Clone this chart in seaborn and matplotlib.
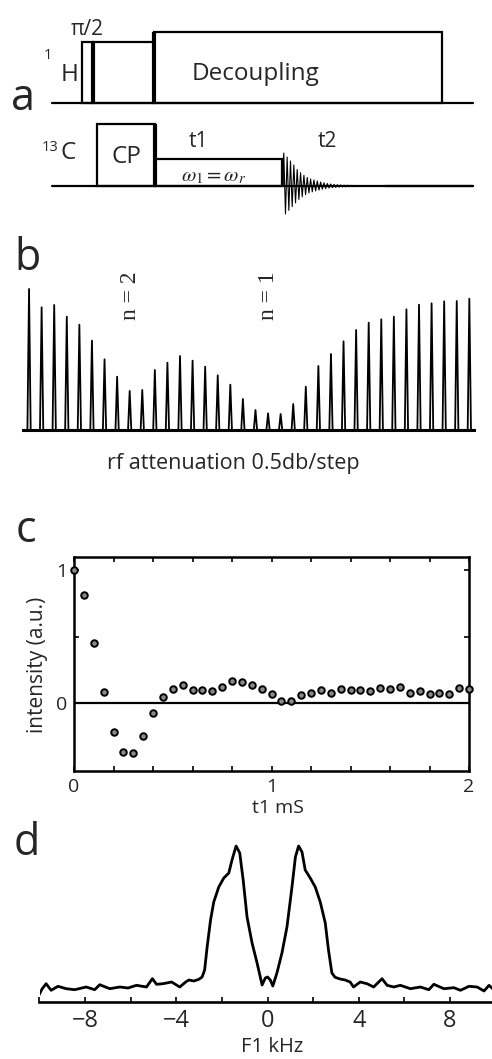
import numpy as np
import pandas as pd
import matplotlib
matplotlib.use("Agg")
import matplotlib.pyplot as plt
from matplotlib.patches import Rectangle
from matplotlib.ticker import FixedLocator
import seaborn as sns

# ---------------- data ----------------
# panel b: rf nutation spikes (one per 0.5 dB attenuation step), heights in arbitrary units
spike_heights = [423, 368, 375, 340, 316, 268, 212, 160, 117, 120, 180, 202,
                 222, 208, 190, 164, 136, 93, 60, 50, 48, 78, 130, 192,
                 228, 266, 300, 322, 332, 340, 362, 376, 380, 386, 387, 394]

# panel c: intensity vs t1
t1_ms = np.linspace(0, 2, 41)
intensity = [1.0, 0.815, 0.455, 0.083, -0.218, -0.368, -0.375, -0.245, -0.075, 0.05,
             0.108, 0.135, 0.103, 0.098, 0.09, 0.125, 0.165, 0.163, 0.135, 0.11,
             0.07, 0.013, 0.018, 0.06, 0.078, 0.1, 0.078, 0.105, 0.103, 0.103,
             0.09, 0.115, 0.108, 0.125, 0.08, 0.09, 0.07, 0.078, 0.068, 0.118, 0.108]

# panel d: F1 spectrum
f1_khz = [-10.03, -9.88, -9.71, -9.49, -9.19, -8.83, -8.46, -7.95, -7.58, -7.36,
          -6.92, -6.48, -6.12, -5.75, -5.31, -5.05, -4.87, -4.58, -4.21, -3.85,
          -3.59, -3.45, -3.23, -3.01, -2.87, -2.76, -2.65, -2.50, -2.36, -2.14,
          -1.92, -1.70, -1.56, -1.38, -1.22, -1.07, -0.90, -0.68, -0.46, -0.24,
          -0.10, 0.0, 0.12, 0.23, 0.41, 0.63, 0.85, 1.07, 1.22, 1.36,
          1.51, 1.65, 1.87, 2.09, 2.31, 2.53, 2.67, 2.82, 2.96, 3.18,
          3.40, 3.62, 3.77, 4.06, 4.36, 4.65, 5.02, 5.24, 5.53, 5.82,
          6.26, 6.70, 7.07, 7.29, 7.73, 8.17, 8.46, 8.83, 9.19, 9.49,
          9.71, 9.87]
f1_intensity = [6.7, 13.3, 18.3, 11.7, 15.7, 13.3, 12.3, 15, 12.3, 17.3,
                13.3, 15, 14, 16.7, 15, 23.3, 17.7, 18.3, 20, 15,
                20, 22, 21, 22.7, 25, 32, 55, 82, 100, 115,
                124, 129, 142, 156, 149, 122, 85, 59, 39, 17,
                24, 25, 22, 16, 29, 49, 75, 115, 145, 156,
                150, 132, 124, 115, 100, 79, 52, 29, 24.7, 23,
                22, 20, 15, 20, 18.3, 15, 23.3, 16.7, 15, 16.7,
                13.3, 15, 12.3, 17.7, 13.3, 14.3, 11.7, 15.7, 15, 11,
                16.7, 13.3]

# panel a: FID envelope (peak amplitude of each cycle)
fid_amplitudes = [33, 29, 25, 21, 16.5, 13.3, 10.7, 8.5, 7, 6, 5, 4, 3.2, 2.5, 2,
                  1.6, 1.3, 1.1, 0.9, 0.8, 0.7, 0.6, 0.5, 0.45, 0.4, 0.35, 0.3,
                  0.25, 0.2, 0.15]

# ---------------- style ----------------
sns.set_theme(style="white")
plt.rcParams['font.family'] = ['Open Sans', 'DejaVu Sans']
plt.rcParams['mathtext.fontset'] = 'stix'

W, H = 492, 1059
fig = plt.figure(figsize=(W / 100, H / 100), dpi=100)
fig.patch.set_facecolor('white')


def px_axes(x0, y0, x1, y1, **kw):
    return fig.add_axes([x0 / W, 1 - y1 / H, (x1 - x0) / W, (y1 - y0) / H], **kw)


# overlay axes in pixel coords for the schematic and labels
ax0 = fig.add_axes([0, 0, 1, 1])
ax0.set_xlim(0, W)
ax0.set_ylim(H, 0)
ax0.axis('off')
ax0.patch.set_alpha(0)

K = 'black'
LW = 1.6
THICK = 3.0
SERIF = ['Liberation Serif', 'DejaVu Serif']


def box(ax, x0, x1, ytop, ybase, lw=LW):
    ax.add_patch(Rectangle((x0, ytop), x1 - x0, ybase - ytop, fill=False,
                           ec=K, lw=lw, joinstyle='miter'))


def vline(ax, x, y0, y1, lw=THICK):
    ax.plot([x, x], [y0, y1], color=K, lw=lw, solid_capstyle='butt')


# ---- panel a: pulse sequence ----
h_base, c_base = 103, 186
ax0.plot([52, 473], [h_base, h_base], color=K, lw=LW)
ax0.plot([52, 473], [c_base, c_base], color=K, lw=LW)
# 1H channel
box(ax0, 82, 93, 42, h_base)
box(ax0, 93, 154, 42, h_base)
vline(ax0, 93, h_base, 42)
box(ax0, 154, 442, 32, h_base)
vline(ax0, 154, h_base, 32)
# 13C channel
box(ax0, 97, 155, 124, c_base)
vline(ax0, 155, c_base, 124)
box(ax0, 155, 282, 159, c_base)
vline(ax0, 282, c_base, 159, lw=2.0)
# FID as zigzag through each cycle's peak amplitude
period = 3.35
fx, fy = [282], [c_base]
for k, a in enumerate(fid_amplitudes):
    nxt = fid_amplitudes[k + 1] if k + 1 < len(fid_amplitudes) else 0
    fx += [283 + k * period + 0.8, 283 + k * period + 0.8 + period / 2]
    fy += [c_base - a, c_base + 0.9 * (a + nxt) / 2]
fx.append(fx[-1] + 2)
fy.append(c_base)
sns.lineplot(x=fx, y=fy, ax=ax0, color=K, lw=0.8, sort=False, estimator=None)
ax0.plot([fx[-1], 473], [c_base, c_base], color=K, lw=LW)

ax0.text(87, 35, 'π/2', fontsize=15, ha='center', va='baseline')
ax0.text(44, 59, '1', fontsize=10.5, ha='left', va='baseline')
ax0.text(61, 81, 'H', fontsize=17.5, ha='left', va='baseline')
ax0.text(255, 80, 'Decoupling', fontsize=17.5, ha='center', va='baseline')
ax0.text(42, 151, '13', fontsize=10.5, ha='left', va='baseline')
ax0.text(60, 159, 'C', fontsize=17.5, ha='left', va='baseline')
ax0.text(126, 163, 'CP', fontsize=17.5, ha='center', va='baseline')
ax0.text(198, 147, 't1', fontsize=15, ha='center', va='baseline')
ax0.text(327, 147, 't2', fontsize=15, ha='center', va='baseline')
ax0.text(214, 176, r'$\omega_1 = \omega_r$', fontsize=15, ha='center', va='center')

# panel letters
for letter, (lx, ly) in {'a': (11, 110), 'b': (14, 270), 'c': (16, 542), 'd': (14, 855)}.items():
    ax0.text(lx, ly, letter, fontsize=31, ha='left', va='baseline')

# ---- panel b: spikes ----
axb = px_axes(22, 280, 476, 440)
axb.patch.set_alpha(0)
bx, by = [-0.56], [0]
for i, h in enumerate(spike_heights):
    bx += [i - 0.13, i, i + 0.13]
    by += [0, h, 0]
bx.append(35.53)
by.append(0)
sns.lineplot(x=bx, y=by, ax=axb, color=K, lw=1.3, sort=False, estimator=None)
axb.plot([-0.56, 35.53], [0, 0], color=K, lw=2.2)
axb.set_xlim(-0.56, 35.53)
axb.set_ylim(-30, 450)
axb.axis('off')
ax0.text(130, 296, 'n = 2', rotation=90, fontsize=17, ha='center', va='center',
         family=SERIF)
ax0.text(269, 296, 'n = 1', rotation=90, fontsize=17, ha='center', va='center',
         family=SERIF)
ax0.text(233, 463, 'rf attenuation 0.5db/step', fontsize=15.5, ha='center', va='center')

# ---- panel c: scatter ----
axc = px_axes(74, 557, 469, 771)
dfc = pd.DataFrame({'t1': t1_ms, 'intensity': intensity})
sns.scatterplot(data=dfc, x='t1', y='intensity', ax=axc, s=22, color='#8a8a8a',
                edgecolor=K, linewidth=1.4, zorder=3, clip_on=False)
axc.axhline(0, color=K, lw=1.6, zorder=2)
axc.set_xlim(0, 2)
axc.set_ylim(-0.51, 1.1)
axc.xaxis.set_major_locator(FixedLocator([0, 1, 2]))
axc.xaxis.set_minor_locator(FixedLocator(np.linspace(0, 2, 11)))
axc.yaxis.set_major_locator(FixedLocator([0, 1]))
axc.yaxis.set_minor_locator(FixedLocator([0, 0.5, 1]))
axc.tick_params(axis='both', which='both', direction='in', top=True, right=True,
                bottom=True, left=True, length=3.5, width=1.2, color=K)
axc.tick_params(axis='both', which='major', labelsize=14, pad=5)
axc.set_xlabel('')
axc.set_ylabel('')
for sp in axc.spines.values():
    sp.set_color(K)
    sp.set_linewidth(1.8)
ax0.text(37, 665, 'intensity (a.u.)', rotation=90, fontsize=15, ha='center', va='center')
ax0.text(278, 808, 't1 mS', fontsize=14, ha='center', va='center')

# ---- panel d: spectrum ----
axd = px_axes(39.5, 830, 492, 1002)
axd.patch.set_alpha(0)
sns.lineplot(x=f1_khz, y=f1_intensity, ax=axd, color=K, lw=2.0, sort=False,
             estimator=None)
axd.set_xlim(-10, 9.84)
axd.set_ylim(0, 172)
for s in ['left', 'right', 'top']:
    axd.spines[s].set_visible(False)
axd.spines['bottom'].set_color(K)
axd.spines['bottom'].set_linewidth(1.9)
axd.set_yticks([])
axd.xaxis.set_major_locator(FixedLocator([-8, -4, 0, 4, 8]))
axd.xaxis.set_minor_locator(FixedLocator([-10, -6, -2, 2, 6]))
axd.tick_params(axis='x', which='both', direction='in', bottom=True, length=3.5,
                width=1.2, color=K)
axd.tick_params(axis='x', which='major', labelsize=17, pad=5)
axd.set_xlabel('')
axd.set_ylabel('')
ax0.text(272, 1047, 'F1 kHz', fontsize=14.5, ha='center', va='center')

fig.savefig('out.png', dpi=100, facecolor='white')
